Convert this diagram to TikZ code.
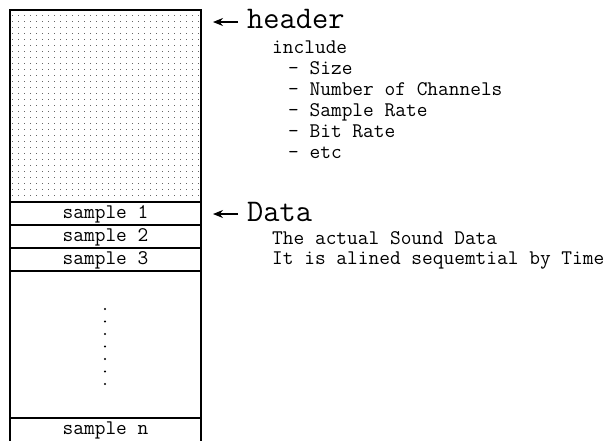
\documentclass[tikz,border=0pt]{standalone}
\usetikzlibrary{arrows.meta}
\begin{document}
\begin{tikzpicture}[x=1pt,y=-1pt,
  box/.style={draw=black,line width=1.2pt},
  smalltxt/.style={font=\ttfamily\fontsize{20.8}{24}\selectfont,inner sep=0pt,anchor=base west},
  bigtxt/.style={font=\ttfamily\fontsize{31.5}{34}\selectfont,inner sep=0pt,anchor=base west},
  celltxt/.style={font=\ttfamily\fontsize{20.8}{24}\selectfont,inner sep=0pt,anchor=base},
  arr/.style={line width=1.1pt,-{Stealth[length=10pt,width=8pt]}}]
\useasboundingbox (0,0) rectangle (609,440);
% dotted header fill
\foreach \i in {0,...,31}{
  \foreach \j in {0,...,30}{
    \fill[black!60] ({12.5+6*\i-0.9},{15.5+6*\j-0.9}) rectangle ++(1.8,1.8);
  }
}
% boxes
\draw[box] (10,10) rectangle (201,202);
\draw[box] (10,202) rectangle (201,225);
\draw[box] (10,225) rectangle (201,248);
\draw[box] (10,248) rectangle (201,271);
\draw[box] (10,271) rectangle (201,418);
\draw[box] (10,418) -- (201,418);
\draw[box] (10,418) -- (10,441);
\draw[box] (201,418) -- (201,441);
% cell labels
\node[celltxt] (s1) at (105.5,218) {sample 1};
\node[celltxt] (s2) at (105.5,241) {sample 2};
\node[celltxt] (s3) at (105.5,264) {sample 3};
\node[celltxt] (sn) at (105.5,434) {sample n};
% vertical ellipsis
\foreach \k in {0,...,6}{
  \fill (105,{309+12.5*\k}) circle (1.1);
}
% header annotation
\node[bigtxt] (hdr) at (247,28) {header};
\coordinate (hdrtip) at (213,22);
\draw[arr] ([xshift=-9pt]hdr.west |- hdrtip) -- (hdrtip);
\node[smalltxt] (inc) at (272,53) {include};
\node[smalltxt] (i1) at (288,74) {- Size};
\node[smalltxt] (i2) at (288,95) {- Number of Channels};
\node[smalltxt] (i3) at (288,116) {- Sample Rate};
\node[smalltxt] (i4) at (288,137) {- Bit Rate};
\node[smalltxt] (i5) at (288,158) {- etc};
% data annotation
\node[bigtxt] (dat) at (247,221) {Data};
\coordinate (dattip) at (213,214);
\draw[arr] ([xshift=-9pt]dat.west |- dattip) -- (dattip);
\node[smalltxt] (d1) at (272,244) {The actual Sound Data};
\node[smalltxt] (d2) at (272,264) {It is alined sequemtial by Time};
\end{tikzpicture}
\end{document}
